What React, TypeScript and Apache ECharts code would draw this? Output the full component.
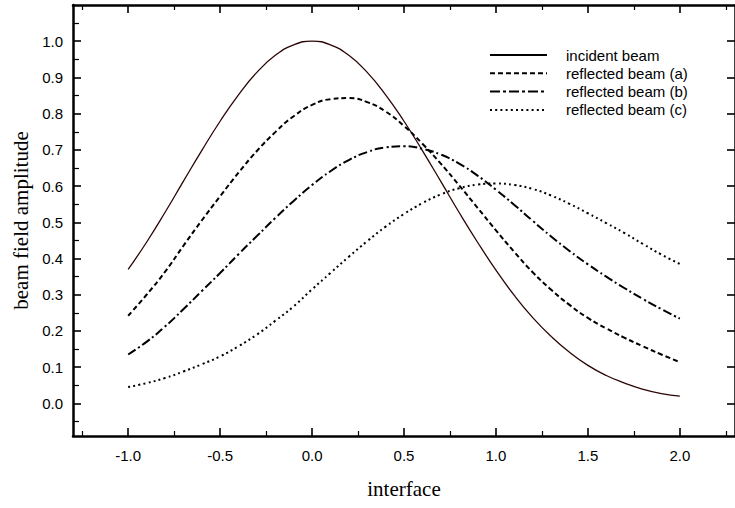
import React, { useEffect, useRef } from "react";
import * as echarts from "echarts";

const xs = [-1.0, -0.9, -0.8, -0.7, -0.6, -0.5, -0.4, -0.3, -0.2, -0.1, 0.0, 0.1, 0.2, 0.3, 0.4, 0.5, 0.6, 0.7, 0.8, 0.9, 1.0, 1.1, 1.2, 1.3, 1.4, 1.5, 1.6, 1.7, 1.8, 1.9, 2.0];

const incident = [0.37, 0.445, 0.527, 0.613, 0.698, 0.779, 0.852, 0.914, 0.961, 0.99, 1.0, 0.99, 0.961, 0.914, 0.852, 0.779, 0.698, 0.613, 0.527, 0.445, 0.368, 0.298, 0.237, 0.185, 0.141, 0.105, 0.077, 0.056, 0.039, 0.027, 0.02];
const reflectedA = [0.242, 0.3, 0.363, 0.435, 0.505, 0.572, 0.637, 0.697, 0.749, 0.793, 0.824, 0.84, 0.843, 0.832, 0.806, 0.766, 0.717, 0.662, 0.602, 0.54, 0.478, 0.418, 0.362, 0.314, 0.272, 0.236, 0.207, 0.181, 0.1575, 0.135, 0.114];
const reflectedB = [0.135, 0.17, 0.212, 0.26, 0.31, 0.36, 0.412, 0.462, 0.512, 0.559, 0.603, 0.641, 0.672, 0.694, 0.707, 0.71, 0.703, 0.687, 0.662, 0.629, 0.59, 0.548, 0.504, 0.461, 0.421, 0.384, 0.35, 0.318, 0.288, 0.26, 0.234];
const reflectedC = [0.045, 0.056, 0.07, 0.088, 0.108, 0.13, 0.158, 0.19, 0.228, 0.268, 0.315, 0.36, 0.405, 0.448, 0.488, 0.523, 0.553, 0.577, 0.594, 0.604, 0.607, 0.603, 0.592, 0.574, 0.551, 0.525, 0.498, 0.47, 0.44, 0.411, 0.385];

const seriesNames = ["incident beam", "reflected beam (a)", "reflected beam (b)", "reflected beam (c)"];

const xMajorTicks = [-1.0, -0.5, 0.0, 0.5, 1.0, 1.5, 2.0];
const xMinorTicks = [-1.25, -0.75, -0.25, 0.25, 0.75, 1.25, 1.75, 2.25];
const yMajorTicks = [0.0, 0.1, 0.2, 0.3, 0.4, 0.5, 0.6, 0.7, 0.8, 0.9, 1.0];
const yMinorTicks = [-0.05, 0.05, 0.15, 0.25, 0.35, 0.45, 0.55, 0.65, 0.75, 0.85, 0.95, 1.05];

const X_MIN = -1.3;
const X_MAX = 2.3;
const Y_MIN = -0.09;
const Y_MAX = 1.1;

const SANS = "'Liberation Sans', Arial, sans-serif";
const SERIF = "'Liberation Serif', 'Times New Roman', serif";

const styles = [
  { color: "#2a0505", width: 1.3, dash: [] as number[], legendDash: [] as number[] },
  { color: "#000", width: 2, dash: [5, 3], legendDash: [5, 3] },
  { color: "#000", width: 2, dash: [9, 3, 2, 3], legendDash: [10, 3, 3, 3] },
  { color: "#000", width: 2, dash: [2, 3.2], legendDash: [2, 3.2] },
];

const seriesData = [incident, reflectedA, reflectedB, reflectedC];

export default function App() {
  const ref = useRef<HTMLDivElement>(null);
  useEffect(() => {
    if (!ref.current) return;
    const chart = echarts.init(ref.current, null, { renderer: "svg" });

    const baseX = {
      type: "value" as const,
      min: X_MIN,
      max: X_MAX,
      splitLine: { show: false },
    };
    const baseY = {
      type: "value" as const,
      min: Y_MIN,
      max: Y_MAX,
      splitLine: { show: false },
    };
    const lineOn = { show: true, onZero: false, lineStyle: { color: "#000", width: 2.5 } };
    const lineOff = { show: false, onZero: false };
    const majorTick = { color: "#000", width: 1.6 };
    const minorTick = { color: "#000", width: 1.2 };

    const legendTop = 55;
    const legendStep = 18.3;
    const graphic: any[] = [];
    seriesNames.forEach((name, i) => {
      const y = legendTop + i * legendStep;
      graphic.push({
        type: "line",
        shape: { x1: 490, y1: y, x2: 547, y2: y },
        style: { stroke: "#000", lineWidth: 2, lineDash: styles[i].legendDash.length ? styles[i].legendDash : null },
      });
      graphic.push({
        type: "text",
        x: 566,
        y: y,
        style: { text: name, fontFamily: SANS, fontSize: 15, fill: "#000", verticalAlign: "middle", align: "left" },
      });
    });

    chart.setOption({
      animation: false,
      backgroundColor: "#fff",
      grid: { left: 73, right: -6, top: 5, bottom: 72, containLabel: false },
      xAxis: [
        {
          ...baseX,
          position: "bottom",
          axisLine: lineOn,
          axisTick: { show: true, inside: true, length: 8, customValues: xMajorTicks, lineStyle: majorTick },
          axisLabel: {
            show: true,
            customValues: xMajorTicks,
            margin: 12,
            color: "#000",
            fontFamily: SANS,
            fontSize: 15,
            formatter: (v: number) => v.toFixed(1),
          },
          name: "interface",
          nameLocation: "middle",
          nameGap: 42,
          nameTextStyle: { fontFamily: SERIF, fontSize: 21, color: "#000" },
        },
        {
          ...baseX,
          position: "bottom",
          axisLine: lineOff,
          axisTick: { show: true, inside: true, length: 5, customValues: xMinorTicks, lineStyle: minorTick },
          axisLabel: { show: false },
        },
        {
          ...baseX,
          position: "top",
          axisLine: lineOn,
          axisTick: { show: true, inside: true, length: 8, customValues: xMajorTicks, lineStyle: majorTick },
          axisLabel: { show: false },
        },
        {
          ...baseX,
          position: "top",
          axisLine: lineOff,
          axisTick: { show: true, inside: true, length: 5, customValues: xMinorTicks, lineStyle: minorTick },
          axisLabel: { show: false },
        },
      ],
      yAxis: [
        {
          ...baseY,
          position: "left",
          axisLine: lineOn,
          axisTick: { show: true, inside: true, length: 8, customValues: yMajorTicks, lineStyle: majorTick },
          axisLabel: {
            show: true,
            customValues: yMajorTicks,
            margin: 10,
            color: "#000",
            fontFamily: SANS,
            fontSize: 15,
            formatter: (v: number) => v.toFixed(1),
          },
          name: "beam field amplitude",
          nameLocation: "middle",
          nameGap: 40,
          nameTextStyle: { fontFamily: SERIF, fontSize: 21, color: "#000" },
        },
        {
          ...baseY,
          position: "left",
          axisLine: lineOff,
          axisTick: { show: true, inside: true, length: 6, customValues: yMinorTicks, lineStyle: minorTick },
          axisLabel: { show: false },
        },
        {
          ...baseY,
          position: "right",
          axisLine: lineOn,
          axisTick: { show: true, inside: true, length: 8, customValues: yMajorTicks, lineStyle: majorTick },
          axisLabel: { show: false },
        },
      ],
      series: seriesNames.map((name, i) => ({
        name,
        type: "line",
        xAxisIndex: 0,
        yAxisIndex: 0,
        showSymbol: false,
        symbol: "none",
        smooth: true,
        data: xs.map((x, k) => [x, seriesData[i][k]]),
        lineStyle: {
          color: styles[i].color,
          width: styles[i].width,
          type: styles[i].dash.length ? styles[i].dash : "solid",
        },
      })),
      graphic,
    });
    return () => chart.dispose();
  }, []);
  return <div ref={ref} style={{ position: "absolute", left: 0, top: 0, width: 735, height: 508 }} />;
}
